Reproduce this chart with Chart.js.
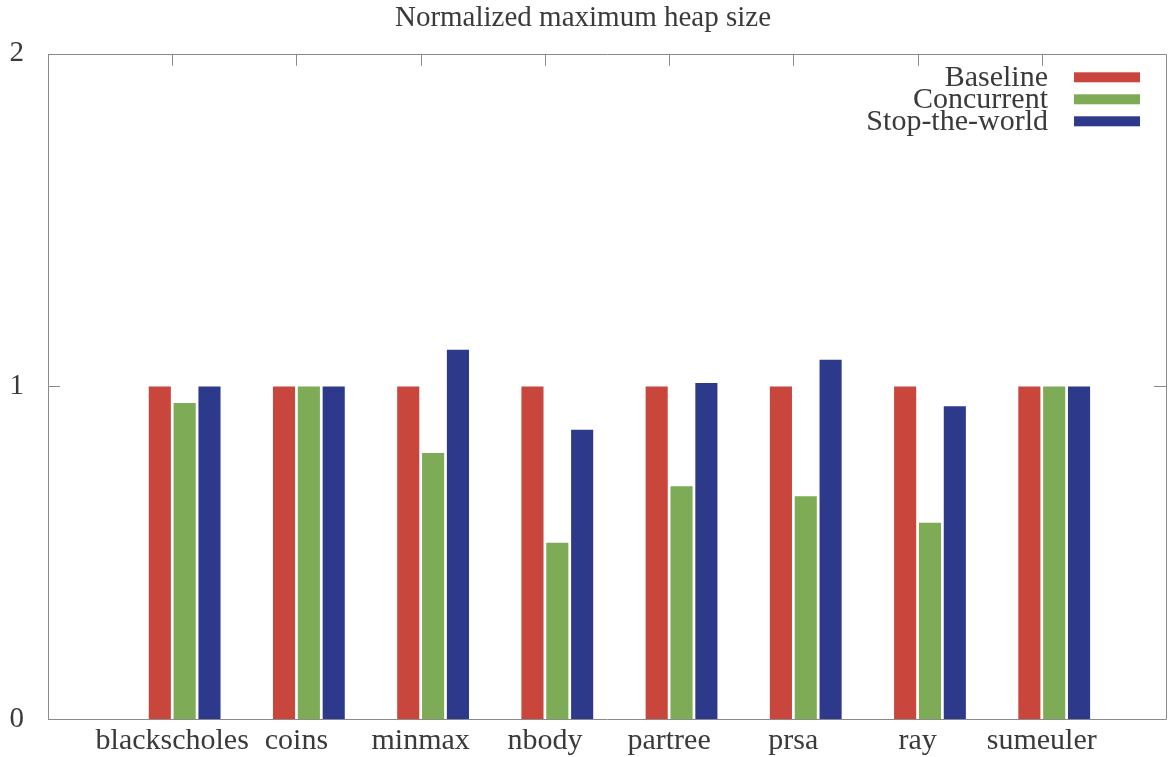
<!DOCTYPE html>
<html>
<head>
<meta charset="utf-8">
<title>Normalized maximum heap size</title>
<script src="https://cdn.jsdelivr.net/npm/chart.js@4/dist/chart.umd.min.js"></script>
<style>
  html, body { margin: 0; padding: 0; background: #ffffff; }
  canvas { display: block; }
</style>
</head>
<body>
<canvas id="chart" width="1174" height="757"></canvas>
<script>
// Benchmarks and their normalized maximum heap sizes
const categories = ['blackscholes', 'coins', 'minmax', 'nbody', 'partree', 'prsa', 'ray', 'sumeuler'];
const baseline   = [1.00, 1.00, 1.00, 1.00, 1.00, 1.00, 1.00, 1.00];
const concurrent = [0.95, 1.00, 0.80, 0.53, 0.70, 0.67, 0.59, 1.00];
const stopWorld  = [1.00, 1.00, 1.11, 0.87, 1.01, 1.08, 0.94, 1.00];
const yTicks     = [0, 1, 2];

const FONT = '"Liberation Serif", "Times New Roman", serif';
const TEXT = '#3a3a3a';
const BORDER = '#8a8a8a';
const TICK_SHIFT = 0.1;   // cluster centre sits just right of each category tick

const series = [
  { label: 'Baseline',       values: baseline,   color: '#c9463d' },
  { label: 'Concurrent',     values: concurrent, color: '#7eab55' },
  { label: 'Stop-the-world', values: stopWorld,  color: '#2d3a8c' }
];

const datasets = series.map(s => ({
  label: s.label,
  data: categories.map((c, i) => ({ x: i, y: s.values[i] })),
  backgroundColor: s.color,
  borderWidth: 0,
  categoryPercentage: 0.6,
  barPercentage: 0.89
}));

// Frame around the plot with inward tick marks on the top and right edges
const framePlugin = {
  id: 'frame',
  afterDatasetsDraw(chart) {
    const { ctx, chartArea: a, scales } = chart;
    ctx.save();
    ctx.strokeStyle = BORDER;
    ctx.lineWidth = 1;
    ctx.beginPath();
    ctx.rect(Math.round(a.left) + 0.5, Math.round(a.top) + 0.5,
             Math.round(a.right - a.left), Math.round(a.bottom - a.top));
    ctx.stroke();
    const len = 12;
    ctx.beginPath();
    scales.x.ticks.forEach(t => {
      const px = Math.round(scales.x.getPixelForValue(t.value)) + 0.5;
      ctx.moveTo(px, a.top);
      ctx.lineTo(px, a.top + len);
    });
    scales.y.ticks.forEach(t => {
      const py = Math.round(scales.y.getPixelForValue(t.value)) + 0.5;
      ctx.moveTo(a.left, py);
      ctx.lineTo(a.left + len, py);
      ctx.moveTo(a.right, py);
      ctx.lineTo(a.right - len, py);
    });
    ctx.stroke();
    ctx.restore();
  }
};

// Key in the upper right corner: labels right-aligned, colour swatch after each
const keyPlugin = {
  id: 'key',
  afterDraw(chart) {
    const { ctx, chartArea: a } = chart;
    const swRight = a.right - 26, swW = 66, swH = 10, gap = 26, rowH = 22;
    ctx.save();
    ctx.font = '30px ' + FONT;
    ctx.textAlign = 'right';
    ctx.textBaseline = 'middle';
    chart.data.datasets.forEach((ds, i) => {
      const cy = a.top + 23.5 + i * rowH;
      ctx.fillStyle = ds.backgroundColor;
      ctx.fillRect(swRight - swW, cy - swH / 2, swW, swH);
      ctx.fillStyle = TEXT;
      ctx.fillText(ds.label, swRight - swW - gap, cy + 1);
    });
    ctx.restore();
  }
};

new Chart(document.getElementById('chart'), {
  type: 'bar',
  data: { datasets },
  options: {
    responsive: false,
    animation: false,
    devicePixelRatio: 1,
    layout: { padding: { left: 0, right: 8, top: 0, bottom: 0 } },
    plugins: {
      legend: { display: false },
      tooltip: { enabled: false },
      title: {
        display: true,
        text: 'Normalized maximum heap size',
        color: TEXT,
        font: { family: FONT, size: 29, weight: 'normal' },
        padding: { top: 1, bottom: 18 }
      }
    },
    scales: {
      x: {
        type: 'linear',
        min: -1 - TICK_SHIFT,
        max: 8 - TICK_SHIFT,
        offset: false,
        grid: { display: false, offset: false, drawTicks: false },
        border: { display: false },
        afterBuildTicks(scale) {
          scale.ticks = categories.map((c, i) => ({ value: i - TICK_SHIFT }));
        },
        ticks: {
          autoSkip: false,
          maxRotation: 0,
          padding: 4,
          color: TEXT,
          font: { family: FONT, size: 30 },
          callback: (value, index) => categories[index]
        },
        afterFit(scale) { scale.height = 38; }
      },
      y: {
        min: 0,
        max: 2,
        grid: { display: false, drawTicks: false },
        border: { display: false },
        afterBuildTicks(scale) {
          scale.ticks = yTicks.map(v => ({ value: v }));
        },
        ticks: {
          padding: 24,
          color: TEXT,
          font: { family: FONT, size: 29 },
          callback: v => String(v)
        },
        afterFit(scale) {
          scale.width = 48;
          // labels at 0 and 2 may overhang the frame; the title and x labels give room
          scale.paddingTop = 0;
          scale.paddingBottom = 0;
        }
      }
    }
  },
  plugins: [framePlugin, keyPlugin]
});
</script>
</body>
</html>
